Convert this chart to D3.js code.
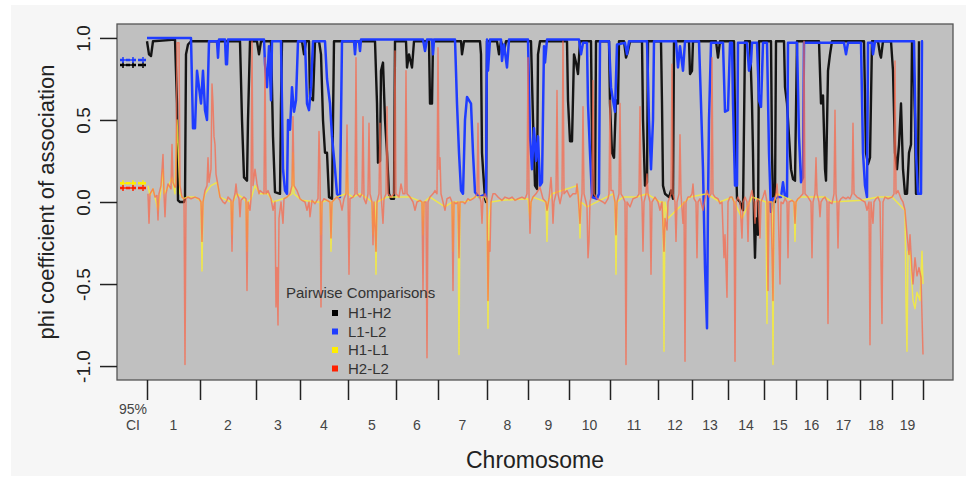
<!DOCTYPE html>
<html>
<head>
<meta charset="utf-8">
<script src="https://cdn.jsdelivr.net/npm/d3@7"></script>
<style>
body { margin: 0; background: #fff; }
text { font-family: "Liberation Sans", Arial, sans-serif; }
</style>
</head>
<body>
<div id="chart"></div>
<script>
// chromosome boundaries (position index) and labels
const chromBounds = [0, 53, 109, 153, 201, 249, 291, 340, 381, 422, 463, 511, 545, 581, 617, 649, 680, 713, 745, 776]
const chromLabels = ["1","2","3","4","5","6","7","8","9","10","11","12","13","14","15","16","17","18","19"]
const yTicks = [-1, -0.5, 0, 0.5, 1]

// 95% CI block
const ciPos = [-27, -1]
const ciMarks = [-24, -14, -4]
const ciValues = { "H1-H2": 0.835, "L1-L2": 0.866, "H1-L1": 0.115, "H2-L2": 0.085 }

// [position, phi]
const h1h2 = [[0,0.98],[2,0.9],[4,0.89],[6,0.98],[28,0.99],[30,0.6],[31,0.01],[33,0.0],[37,0.0],[38,0.02],[39,0.9],[41,0.96],[44,0.98],
  [93,0.98],[95,0.5],[97,0.15],[100,0.13],[101,0.5],[103,0.98],[110,0.98],[112,0.9],[114,0.98],[124,0.98],[126,0.4],[128,0.06],[133,0.05],
  [134,0.6],[135,0.98],[155,0.98],[157,0.9],[159,0.98],[162,0.98],[163,0.64],[166,0.62],[168,0.98],[172,0.98],[174,0.9],[176,0.5],[178,0.3],
  [180,0.3],[182,0.03],[185,0.02],[187,0.98],[228,0.98],[230,0.6],[231,0.24],[233,0.25],[234,0.8],[236,0.85],[238,0.5],[240,0.3],[242,0.05],
  [244,0.02],[247,0.02],[248,0.98],[259,0.98],[260,0.82],[262,0.9],[265,0.82],[267,0.98],[282,0.98],[283,0.6],[285,0.6],[286,0.98],
  [314,0.98],[315,0.9],[317,0.98],[333,0.98],[334,0.9],[335,0.3],[336,0.2],[338,0.02],[339,0.0],[340,0.98],[350,0.98],[352,0.9],[354,0.98],
  [357,0.92],[359,0.98],[384,0.98],[386,0.5],[388,0.1],[390,0.08],[391,0.9],[393,0.98],[420,0.98],[421,0.62],[423,0.37],[425,0.37],[427,0.9],
  [429,0.85],[431,0.78],[433,0.98],[444,0.98],[445,0.4],[446,0.03],[448,0.03],[449,0.98],[462,0.98],[463,0.6],[465,0.3],[467,0.27],[469,0.62],
  [471,0.6],[472,0.98],[477,0.98],[479,0.88],[481,0.92],[483,0.98],[495,0.98],[496,0.5],[498,0.1],[500,0.12],[501,0.98],[514,0.98],[515,0.6],
  [516,0.1],[518,0.05],[522,0.03],[524,0.07],[526,0.02],[527,0.98],[542,0.98],[543,0.78],[545,0.8],[546,0.98],[569,0.98],[571,0.88],[573,0.98],
  [587,0.98],[588,0.5],[590,0.02],[593,0.0],[596,-0.05],[598,0.98],[603,0.98],[605,0.6],[606,0.3],[607,-0.1],[608,-0.34],[609,-0.1],[611,-0.2],
  [612,0.98],[624,0.98],[625,0.3],[626,0.02],[628,0.0],[629,0.98],[637,0.98],[638,0.7],[640,0.6],[642,0.4],[644,0.2],[646,0.14],[648,0.13],
  [650,0.98],[672,0.98],[674,0.6],[676,0.65],[678,0.2],[679,0.13],[681,0.8],[683,0.9],[685,0.98],[717,0.98],[719,0.3],[721,0.23],[723,0.27],
  [725,0.98],[731,0.98],[733,0.9],[734,0.88],[736,0.98],[744,0.98],[746,0.8],[748,0.3],[750,0.2],[752,0.35],[754,0.6],[756,0.2],[758,0.05],
  [760,0.05],[762,0.3],[764,0.35],[765,0.98],[766,0.98],[768,0.5],[769,0.05],[771,0.05],[772,0.98]]

const l1l2 = [[0,1.0],[44,1.0],[46,0.45],[48,0.45],[50,0.8],[52,0.7],[54,0.6],[56,0.8],[58,0.56],[60,0.5],[62,0.98],[70,0.98],[71,0.88],
  [72,0.99],[78,0.99],[79,0.84],[80,0.84],[81,0.99],[117,0.99],[118,0.84],[120,0.7],[122,0.95],[124,0.62],[125,0.98],[134,0.98],[136,0.2],
  [138,0.07],[140,0.05],[141,0.5],[143,0.44],[145,0.7],[147,0.55],[149,0.62],[151,0.98],[158,0.98],[160,0.6],[162,0.56],[164,0.7],[166,0.98],
  [178,0.98],[180,0.75],[183,0.6],[185,0.4],[188,0.2],[190,0.05],[193,0.03],[195,0.98],[207,0.98],[208,0.9],[209,0.98],[212,0.98],[213,0.92],
  [214,0.99],[276,0.99],[278,0.92],[280,0.99],[285,0.99],[286,0.9],[287,0.99],[308,0.99],[310,0.6],[312,0.3],[314,0.07],[316,0.05],[318,0.5],
  [320,0.64],[324,0.6],[326,0.3],[328,0.06],[332,0.03],[336,0.04],[339,0.03],[340,0.99],[341,0.8],[343,0.99],[354,0.99],[355,0.86],[357,0.96],
  [360,0.82],[362,0.99],[381,0.99],[383,0.4],[385,0.2],[387,0.45],[389,0.25],[391,0.4],[393,0.1],[395,0.12],[397,0.95],[398,0.85],[400,0.99],
  [432,0.99],[434,0.9],[436,0.97],[440,0.97],[441,0.6],[443,0.3],[445,0.03],[450,0.02],[452,0.05],[453,0.98],[462,0.98],[464,0.7],[466,0.62],
  [468,0.55],[470,0.96],[478,0.97],[480,0.9],[482,0.98],[500,0.98],[502,0.5],[504,0.2],[506,0.5],[507,0.98],[529,0.98],[531,0.82],[533,0.95],
  [536,0.8],[538,0.98],[552,0.98],[554,0.6],[556,0.2],[558,-0.4],[560,-0.77],[561,0.0],[562,0.5],[564,0.97],[576,0.97],[578,0.55],[581,0.56],
  [583,0.97],[585,0.97],[586,0.6],[588,0.1],[590,0.1],[591,0.97],[600,0.97],[602,0.8],[604,0.85],[605,0.97],[610,0.97],[612,0.62],[614,0.58],
  [616,0.97],[620,0.97],[622,0.3],[624,-0.06],[626,0.02],[630,0.03],[634,0.03],[636,0.12],[638,0.03],[640,0.03],[641,0.97],[650,0.97],
  [652,0.4],[654,0.12],[656,0.15],[657,0.97],[697,0.97],[699,0.9],[701,0.97],[714,0.97],[716,0.3],[718,0.1],[720,0.03],[721,0.97],[725,0.97],
  [726,0.9],[728,0.98],[767,0.98],[769,0.3],[771,0.05],[774,0.05],[775,0.98],[776,0.98]]

const h1l1 = [[1,0.1],[3,0.04],[6,0.08],[11,-0.05],[14,0.08],[16,0.2],[17,0.05],[21,0.09],[25,0.15],[28,0.05],[30,0.5],[32,0.2],[33,0.05],
  [36,0.02],[41,0.03],[48,0.03],[53,0.01],[54,0.0],[55,-0.42],[56,0.0],[58,0.05],[64,0.1],[70,0.12],[73,0.03],[80,0.01],[84,0.0],[85,-0.2],
  [86,0.0],[90,0.05],[97,0.02],[99,0.0],[100,-0.3],[101,0.0],[104,0.02],[108,0.1],[113,0.05],[121,0.05],[126,0.0],[136,0.02],[140,0.03],
  [145,0.05],[146,0.3],[147,0.05],[155,0.01],[168,0.0],[173,0.0],[174,-0.2],[175,0.0],[180,0.01],[183,0.0],[184,-0.3],[185,0.0],[190,0.03],
  [199,0.05],[200,0.3],[201,0.05],[206,0.03],[213,0.05],[221,0.02],[225,0.0],[226,-0.2],[228,0.0],[229,-0.44],[230,0.0],[240,0.03],[245,0.03],
  [263,0.03],[275,0.0],[276,-0.2],[277,0.0],[283,0.03],[298,-0.03],[305,0.0],[306,-0.3],[307,0.0],[311,0.0],[312,-0.93],[313,0.0],[318,0.0],
  [328,0.03],[338,0.03],[340,0.0],[341,-0.77],[342,-0.1],[344,0.0],[355,0.01],[381,0.02],[383,-0.1],[384,0.0],[386,0.03],[399,0.0],[400,-0.24],
  [401,0.0],[405,0.05],[430,0.1],[432,0.0],[433,-0.22],[434,0.0],[440,-0.03],[453,0.01],[466,0.05],[468,0.0],[469,-0.44],[470,0.0],[476,0.03],
  [490,0.03],[500,0.05],[513,0.0],[516,0.0],[517,-0.91],[518,0.0],[521,-0.1],[543,0.03],[560,0.05],[573,0.0],[585,0.03],[595,-0.1],[605,0.03],
  [619,0.0],[620,-0.74],[621,0.0],[625,0.0],[626,-0.99],[627,0.0],[630,0.05],[645,0.01],[647,0.0],[648,-0.24],[649,0.0],[653,0.03],[678,0.03],
  [685,0.0],[715,0.01],[731,0.03],[745,0.03],[758,-0.05],[759,-0.6],[760,-0.91],[761,-0.3],[763,-0.3],[766,-0.6],[768,-0.65],[770,-0.55],
  [773,-0.6],[775,-0.3],[776,-0.5]]

const h2l2 = [[1,0.05],[2,-0.13],[3,0.05],[6,0.08],[8,0.03],[10,0.04],[11,-0.11],[12,0.05],[14,0.1],[16,0.29],[17,0.05],[18,-0.09],[19,0.05],
  [21,0.11],[24,0.08],[25,0.35],[26,0.12],[28,0.09],[29,0.1],[30,0.97],[32,0.97],[33,0.1],[35,0.03],[37,0.02],[38,-0.99],[39,0.02],[41,0.03],
  [44,0.02],[48,0.03],[52,0.02],[54,0.0],[55,-0.24],[56,0.0],[58,0.07],[60,0.1],[61,0.27],[62,0.12],[64,0.2],[65,0.72],[66,0.6],[67,0.4],
  [68,0.35],[69,0.17],[71,0.1],[73,0.03],[76,0.0],[78,-0.01],[80,0.01],[81,0.03],[84,0.01],[85,-0.3],[86,0.0],[88,0.05],[89,0.11],[90,0.05],
  [92,0.02],[93,-0.09],[94,0.01],[97,0.03],[99,0.02],[100,-0.54],[101,0.0],[103,-0.05],[104,0.02],[105,0.98],[106,0.1],[108,0.2],[110,0.11],
  [112,0.05],[113,0.07],[117,0.05],[118,0.88],[119,0.05],[121,0.07],[124,0.02],[126,-0.05],[128,0.0],[129,-0.64],[130,-0.4],[131,-0.75],
  [132,-0.1],[134,0.0],[136,-0.13],[137,0.02],[140,0.03],[143,0.05],[145,0.1],[146,0.52],[147,0.1],[150,0.07],[153,0.02],[155,0.01],[158,0.0],
  [160,-0.05],[162,0.0],[163,-0.09],[165,0.01],[168,-0.01],[171,0.02],[172,0.43],[173,0.2],[174,-0.64],[175,0.0],[177,0.02],[180,0.01],
  [183,0.0],[184,-0.22],[185,0.0],[188,0.02],[190,0.03],[193,0.01],[195,-0.05],[197,0.02],[199,0.05],[200,0.47],[201,0.05],[202,-0.44],
  [203,0.02],[206,0.03],[208,0.05],[209,0.88],[210,0.05],[213,0.03],[215,0.05],[216,0.52],[217,0.02],[219,-0.01],[221,0.05],[222,0.48],
  [223,0.05],[225,0.0],[226,-0.26],[227,0.0],[229,-0.3],[230,0.0],[232,0.05],[233,0.48],[234,0.05],[236,-0.13],[237,0.02],[239,0.05],
  [240,0.58],[241,0.05],[244,0.03],[247,0.05],[248,0.92],[249,0.05],[252,0.03],[254,0.11],[256,0.05],[258,0.05],[259,0.8],[260,0.05],
  [263,0.03],[266,0.0],[268,-0.05],[270,0.0],[273,0.01],[275,0.0],[276,-0.54],[277,0.0],[279,0.0],[280,-0.95],[281,0.0],[283,0.03],[286,0.05],
  [288,0.07],[290,0.05],[291,0.94],[292,0.2],[293,0.27],[294,0.05],[296,0.0],[298,-0.05],[300,0.02],[303,0.03],[305,0.0],[306,-0.54],
  [307,0.0],[309,-0.01],[311,0.0],[312,-0.34],[313,0.0],[316,0.0],[318,-0.01],[321,0.02],[323,0.01],[326,0.02],[328,0.03],[330,0.05],
  [331,0.48],[332,0.05],[334,0.0],[335,-0.13],[336,0.02],[338,0.05],[340,0.02],[341,-0.6],[342,-0.24],[343,-0.3],[344,0.0],[346,0.05],
  [348,0.05],[351,0.03],[353,0.02],[355,0.01],[358,0.03],[362,0.02],[365,0.03],[368,0.01],[371,0.02],[375,0.03],[378,0.02],[380,0.05],
  [381,0.88],[382,0.05],[383,-0.19],[384,0.0],[386,0.03],[389,0.05],[393,0.09],[396,0.02],[399,0.0],[400,-0.05],[402,0.02],[404,0.15],
  [405,0.05],[406,-0.13],[407,0.0],[409,0.05],[410,0.68],[411,0.05],[413,-0.01],[415,0.05],[416,0.98],[417,0.05],[420,0.07],[423,0.03],
  [426,0.05],[429,0.05],[430,0.11],[431,0.05],[433,-0.13],[434,0.0],[435,0.05],[436,0.58],[437,0.05],[439,0.0],[440,-0.03],[441,-0.34],
  [442,-0.24],[443,0.0],[445,0.05],[446,0.74],[447,0.05],[450,0.02],[453,0.01],[456,0.0],[458,-0.01],[461,0.02],[462,0.05],[463,0.62],
  [464,0.07],[466,0.07],[468,0.0],[469,-0.2],[470,0.0],[472,0.05],[473,0.6],[474,0.05],[476,0.03],[478,0.0],[479,-0.99],[480,0.0],[483,-0.03],
  [486,0.02],[490,0.03],[492,0.05],[493,0.58],[494,0.05],[495,0.0],[496,-0.3],[497,0.0],[499,0.05],[500,0.17],[501,0.05],[503,0.0],
  [504,-0.44],[505,0.0],[508,0.03],[511,0.0],[513,-0.05],[515,0.0],[517,-0.3],[518,-0.1],[520,-0.17],[521,0.0],[524,0.05],[525,0.84],
  [526,0.05],[528,0.0],[529,-0.24],[530,0.0],[532,0.05],[533,0.41],[534,0.05],[536,-0.13],[537,0.0],[538,-0.97],[539,0.0],[541,0.03],
  [543,0.03],[545,0.05],[546,0.11],[547,0.02],[549,0.0],[550,-0.34],[551,0.0],[553,0.02],[556,-0.05],[558,0.02],[560,0.07],[562,0.03],
  [564,0.05],[565,0.88],[566,0.05],[568,0.03],[571,0.02],[573,-0.01],[575,0.0],[577,-0.34],[578,-0.2],[580,-0.58],[581,0.0],[583,0.03],
  [585,0.03],[587,0.0],[588,-0.97],[589,0.0],[591,0.03],[593,0.0],[595,-0.22],[596,0.0],[598,0.03],[600,0.0],[601,-0.24],[602,0.0],[605,0.07],
  [607,0.0],[608,-0.13],[609,0.0],[611,0.02],[613,-0.22],[614,0.0],[616,0.03],[618,0.07],[620,0.0],[621,-0.54],[622,0.0],[624,0.0],[626,-0.6],
  [627,0.0],[629,0.05],[630,0.11],[631,0.02],[633,-0.5],[634,0.0],[636,-0.01],[638,0.02],[640,0.0],[641,-0.34],[642,0.0],[645,0.01],[647,0.0],
  [648,-0.13],[649,0.0],[651,0.02],[653,0.03],[656,0.05],[657,0.98],[658,0.05],[661,0.03],[664,0.0],[665,-0.34],[666,0.0],[668,0.05],
  [669,0.27],[670,0.05],[672,0.0],[673,-0.09],[674,0.0],[676,0.02],[678,0.03],[680,0.0],[681,-0.74],[682,0.0],[685,-0.01],[687,0.05],
  [688,0.56],[689,0.05],[690,0.0],[691,-0.28],[692,0.0],[694,0.02],[696,0.03],[699,0.02],[701,0.03],[703,0.02],[705,0.05],[706,0.48],
  [707,0.05],[710,0.03],[713,0.02],[715,0.01],[718,0.0],[720,-0.05],[722,0.0],[723,-0.87],[724,0.0],[726,-0.13],[727,0.0],[729,0.02],
  [731,0.03],[733,0.0],[735,-0.74],[736,0.0],[738,0.03],[741,0.02],[745,0.03],[747,0.05],[748,0.86],[749,0.05],[751,0.07],[754,0.02],
  [756,0.0],[758,-0.05],[760,-0.2],[762,-0.32],[763,-0.2],[765,-0.42],[766,-0.5],[768,-0.34],[770,-0.45],[772,-0.4],[774,-0.46],[776,-0.93]]

const series = [
  { name: "H1-H2", data: h1h2, color: "#141414", width: 2.4, opacity: 1, key: "#000000" },
  { name: "L1-L2", data: l1l2, color: "#1f3cff", width: 2.5, opacity: 1, key: "#1f3cff" },
  { name: "H1-L1", data: h1l1, color: "#f6ec3a", width: 1.5, opacity: 0.85, key: "#ffee00" },
  { name: "H2-L2", data: h2l2, color: "#f76a4e", width: 1.5, opacity: 0.75, key: "#ff2000" }
]

const W = 971, H = 481
const svg = d3.select("#chart").append("svg").attr("width", W).attr("height", H)

svg.append("rect").attr("x", 11).attr("y", 5).attr("width", 955).attr("height", 471).attr("fill", "#f6f6f6")

const x = d3.scaleLinear().domain([-30, 806]).range([117, 953])
const y = d3.scaleLinear().domain([-1.085, 1.085]).range([380, 24])

svg.append("rect")
    .attr("x", 117).attr("y", 24).attr("width", 836).attr("height", 356)
    .attr("fill", "#c0c0c0")

svg.append("clipPath").attr("id", "clip")
    .append("rect").attr("x", 117).attr("y", 24).attr("width", 836).attr("height", 356)

const plot = svg.append("g").attr("clip-path", "url(#clip)")

const line = d3.line()
    .x(function(d) { return x(d[0]) })
    .y(function(d) { return y(d[1]) })

series.forEach(s => {
    plot.append("path")
        .datum(s.data)
        .attr("fill", "none")
        .attr("stroke", s.color)
        .attr("stroke-width", s.width)
        .attr("stroke-opacity", s.opacity)
        .attr("stroke-linejoin", "round")
        .attr("d", line)
})

// 95% CI markers
series.forEach(s => {
    const v = ciValues[s.name]
    plot.append("path")
        .datum(ciPos.map(p => [p, v]))
        .attr("fill", "none")
        .attr("stroke", s.key)
        .attr("stroke-width", 2.5)
        .attr("stroke-dasharray", "4,2")
        .attr("d", line)
    plot.selectAll(null)
        .data(ciMarks)
        .enter()
        .append("path")
        .attr("d", d => "M" + (x(d) - 3) + "," + y(v) + "h6M" + x(d) + "," + (y(v) - 3) + "v6")
        .attr("stroke", s.name === "H1-H2" ? "#000" : s.key)
        .attr("stroke-width", 1.5)
})

svg.append("rect")
    .attr("x", 117).attr("y", 24).attr("width", 836).attr("height", 356)
    .attr("fill", "none").attr("stroke", "#555").attr("stroke-width", 1.3)

// y axis
const yaxis = svg.append("g")
    .attr("transform", "translate(117,0)")
    .call(d3.axisLeft(y).tickValues(yTicks).tickSize(17).tickFormat(d => d.toFixed(1)))
yaxis.select(".domain").remove()
yaxis.selectAll("line").attr("stroke", "#222").attr("stroke-width", 1.5)
yaxis.selectAll("text")
    .attr("x", 0).attr("dy", 0)
    .attr("transform", "translate(-27,0) rotate(-90)")
    .attr("text-anchor", "middle")
    .attr("fill", "#222")
    .style("font", "19px 'Liberation Sans', Arial, sans-serif")

// x axis ticks at chromosome boundaries
const xaxis = svg.append("g")
    .attr("transform", "translate(0,380)")
    .call(d3.axisBottom(x).tickValues(chromBounds).tickSize(20).tickFormat(""))
xaxis.select(".domain").remove()
xaxis.selectAll("line").attr("stroke", "#222").attr("stroke-width", 1.5)

const mids = chromLabels.map((c, i) => (chromBounds[i] + chromBounds[i + 1]) / 2)
svg.selectAll(".chr")
    .data(chromLabels)
    .enter()
    .append("text")
    .attr("x", (d, i) => x(mids[i]))
    .attr("y", 430)
    .attr("text-anchor", "middle")
    .attr("fill", "#444")
    .style("font-size", "14px")
    .text(d => d)

svg.append("text").attr("x", x(-14)).attr("y", 414).attr("text-anchor", "middle")
    .attr("fill", "#444").style("font-size", "14px").text("95%")
svg.append("text").attr("x", x(-14)).attr("y", 430).attr("text-anchor", "middle")
    .attr("fill", "#444").style("font-size", "14px").text("CI")

// axis titles
svg.append("text")
    .attr("text-anchor", "middle")
    .attr("transform", "translate(535,468)")
    .attr("fill", "#222")
    .style("font-size", "23px")
    .text("Chromosome")

svg.append("text")
    .attr("text-anchor", "middle")
    .attr("transform", "translate(54,202) rotate(-90)")
    .attr("fill", "#222")
    .style("font-size", "22px")
    .text("phi coefficient of association")

// legend
const legend = svg.append("g").attr("transform", "translate(286,0)")
legend.append("text").attr("x", 0).attr("y", 298).attr("fill", "#333")
    .style("font-size", "15px").text("Pairwise Comparisons")
legend.selectAll(".key")
    .data(series)
    .enter()
    .append("rect")
    .attr("x", 46).attr("y", (d, i) => 310 + i * 18.5)
    .attr("width", 6).attr("height", 6)
    .attr("fill", d => d.key)
legend.selectAll(".lab")
    .data(series)
    .enter()
    .append("text")
    .attr("x", 62).attr("y", (d, i) => 318 + i * 18.5)
    .attr("fill", "#333")
    .style("font-size", "15px")
    .text(d => d.name)
</script>
</body>
</html>
